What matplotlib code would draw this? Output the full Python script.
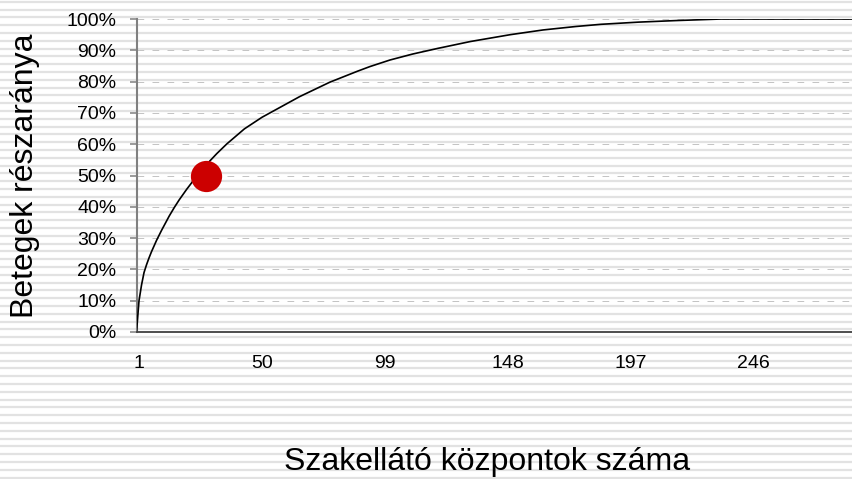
import matplotlib
matplotlib.use("Agg")
import matplotlib.pyplot as plt
import numpy as np

plt.rcParams['font.family'] = ['Liberation Sans', 'DejaVu Sans']

# Readings of the cumulative share (%) of patients vs. number of centres
centres = [0, 1, 2, 3, 4, 5, 6, 8, 10, 13, 15, 17, 20, 24, 28, 32, 36, 43, 50,
           55, 65, 77, 88, 93, 101, 110, 120, 133, 149, 162, 175, 185, 200, 215,
           233, 285]
share = [0, 10, 15, 19, 21.5, 23.7, 25.7, 29.3, 32.5, 37, 39.7, 42.2, 45.6,
         49.8, 53.6, 57, 60.1, 64.9, 68.6, 70.8, 75.2, 79.8, 83.3, 84.8, 86.9,
         88.8, 90.6, 92.8, 95, 96.5, 97.6, 98.3, 99.0, 99.5, 100, 100]

# Highlighted point (50% of patients)
half_x = 27.5
half_y = 50

x_ticks = [1, 50, 99, 148, 197, 246]
y_ticks = [0, 10, 20, 30, 40, 50, 60, 70, 80, 90, 100]
y_labels = [f"{v}%" for v in y_ticks]

W, H = 853, 479
fig = plt.figure(figsize=(W / 100, H / 100), dpi=100)
fig.patch.set_facecolor('white')

# striped background
bg = fig.add_axes([0, 0, 1, 1], zorder=0)
bg.set_xlim(0, W)
bg.set_ylim(H, 0)
bg.axis('off')
for yy in np.arange(1.7, H, 7.8):
    bg.axhline(yy, color='#e2e2e2', lw=1.6, zorder=0)

ax = fig.add_axes([136.5 / W, 1 - 332 / H, 1 - 136.5 / W, (332 - 19) / H], zorder=1)
ax.set_facecolor('none')

ax.plot(centres, share, color='black', lw=1.2, zorder=3, solid_joinstyle='round')
ax.plot([half_x], [half_y], 'o', color='#cc0000', markersize=22.5,
        markeredgewidth=0, zorder=4)

ax.set_xlim(0, 285.5)
ax.set_ylim(0, 100)
ax.set_xticks(x_ticks)
ax.set_xticklabels([str(v) for v in x_ticks])
ax.set_yticks(y_ticks)
ax.set_yticklabels(y_labels)

ax.grid(axis='y', color='#c4c4c4', lw=0.72, ls=(0, (6.7, 8.3)))
ax.set_axisbelow(True)

for s in ['top', 'right']:
    ax.spines[s].set_visible(False)
ax.spines['left'].set_color('#808080')
ax.spines['left'].set_linewidth(1.5)
ax.spines['bottom'].set_color('#404040')
ax.spines['bottom'].set_linewidth(1.3)
ax.spines['bottom'].set_zorder(5)

ax.tick_params(axis='y', length=5, width=1.1, color='#808080', pad=9.5,
               labelsize=14, labelcolor='black')
ax.tick_params(axis='x', length=0, pad=16.5, labelsize=14, labelcolor='black')

fig.text(25 / W, 1 - 176 / H, 'Betegek részaránya', rotation=90,
         ha='center', va='center', fontsize=23, color='black')
fig.text(487 / W, 1 - 462 / H, 'Szakellátó központok száma',
         ha='center', va='center', fontsize=23, color='black')

fig.savefig('out.png', dpi=100)
